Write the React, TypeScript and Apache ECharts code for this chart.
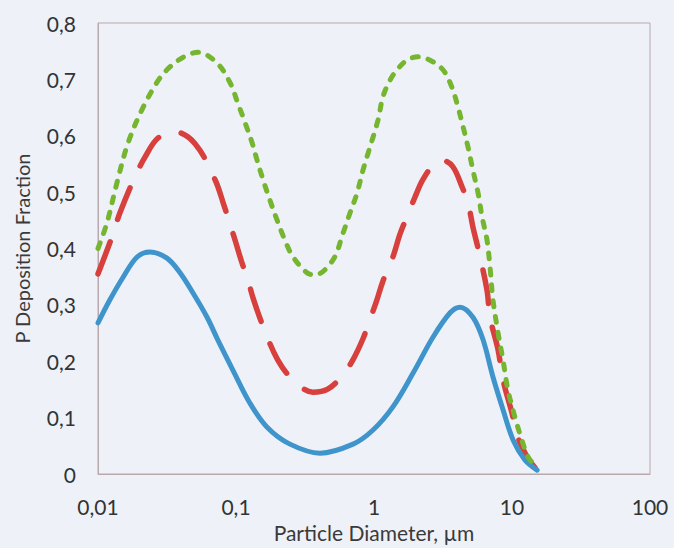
import React, { useEffect, useRef } from "react";
import * as echarts from "echarts";

const xTickLabels = ["0,01", "0,1", "1", "10", "100"];
const yTickLabels = ["0", "0,1", "0,2", "0,3", "0,4", "0,5", "0,6", "0,7", "0,8"];

const blueX = [0.01, 0.0122, 0.0152, 0.0192, 0.0238, 0.0316, 0.0393, 0.0488, 0.0617, 0.0741, 0.0951, 0.126, 0.168, 0.246, 0.406, 0.705, 0.984, 1.37, 1.92, 2.68, 3.56, 4.2, 5.21, 6.17, 7.28, 8.61, 10.2, 12.4, 15.2];
const blueY = [0.268, 0.309, 0.349, 0.385, 0.394, 0.383, 0.357, 0.321, 0.278, 0.237, 0.184, 0.126, 0.083, 0.053, 0.037, 0.053, 0.078, 0.119, 0.179, 0.243, 0.286, 0.296, 0.278, 0.238, 0.172, 0.114, 0.06, 0.025, 0.007];

const redX = [0.01, 0.0126, 0.0144, 0.0185, 0.0219, 0.0272, 0.0361, 0.0505, 0.0705, 0.0805, 0.0984, 0.11, 0.122, 0.133, 0.157, 0.201, 0.259, 0.361, 0.465, 0.596, 0.705, 0.832, 0.935, 1.05, 1.16, 1.37, 1.54, 1.73, 1.98, 2.26, 2.77, 3.16, 3.73, 4.35, 4.8, 5.21, 5.68, 6.59, 6.93, 7.93, 8.61, 10.0, 11.0, 12.9, 14.7];
const redY = [0.355, 0.42, 0.463, 0.527, 0.562, 0.596, 0.607, 0.586, 0.522, 0.482, 0.415, 0.376, 0.344, 0.312, 0.262, 0.202, 0.167, 0.145, 0.151, 0.176, 0.203, 0.24, 0.274, 0.309, 0.342, 0.385, 0.425, 0.456, 0.491, 0.522, 0.552, 0.556, 0.545, 0.509, 0.481, 0.438, 0.4, 0.326, 0.278, 0.22, 0.167, 0.108, 0.066, 0.03, 0.011];

const greenX = [0.01, 0.0116, 0.0137, 0.0165, 0.0208, 0.0268, 0.0316, 0.0406, 0.0531, 0.0728, 0.0906, 0.103, 0.116, 0.131, 0.142, 0.157, 0.176, 0.198, 0.226, 0.259, 0.327, 0.373, 0.505, 0.596, 0.67, 0.753, 0.832, 0.906, 1.07, 1.16, 1.31, 1.47, 1.73, 2.08, 2.55, 3.16, 3.67, 4.06, 4.42, 4.8, 5.21, 5.68, 6.07, 6.59, 6.93, 7.28, 7.93, 8.61, 9.35, 10.5, 11.8, 13.1, 15.2];
const greenY = [0.4, 0.445, 0.516, 0.587, 0.646, 0.695, 0.717, 0.738, 0.748, 0.729, 0.694, 0.658, 0.624, 0.587, 0.557, 0.522, 0.486, 0.451, 0.415, 0.385, 0.357, 0.353, 0.38, 0.427, 0.463, 0.498, 0.539, 0.569, 0.628, 0.669, 0.699, 0.717, 0.734, 0.74, 0.734, 0.717, 0.686, 0.651, 0.616, 0.58, 0.539, 0.498, 0.456, 0.415, 0.367, 0.309, 0.25, 0.202, 0.149, 0.101, 0.06, 0.03, 0.011];

const xTickValues = [0.01, 0.1, 1, 10, 100];
const yTickValues = [0, 0.1, 0.2, 0.3, 0.4, 0.5, 0.6, 0.7, 0.8];

const pair = (xs: number[], ys: number[]) => xs.map((x, i) => [x, ys[i]]);

const FONT = "Lato";
const BG = "#eef1f8";
const AXIS = "#b9a9ad";

export default function App() {
  const ref = useRef<HTMLDivElement>(null);
  useEffect(() => {
    document.body.style.margin = "0";
    document.body.style.background = BG;
    const chart = echarts.init(ref.current!, null, { renderer: "svg" });
    const fmtX = (v: number) => {
      const idx = xTickValues.findIndex((t) => Math.abs(Math.log10(t) - Math.log10(v)) < 1e-6);
      return idx >= 0 ? xTickLabels[idx] : "";
    };
    const fmtY = (v: number) => {
      const idx = yTickValues.findIndex((t) => Math.abs(t - v) < 1e-6);
      return idx >= 0 ? yTickLabels[idx] : "";
    };
    chart.setOption({
      animation: false,
      backgroundColor: BG,
      grid: {
        left: 98,
        top: 23,
        right: 24,
        bottom: 74,
        show: true,
        borderColor: AXIS,
        borderWidth: 1,
        backgroundColor: BG,
      },
      xAxis: {
        type: "log",
        logBase: 10,
        min: 0.01,
        max: 100,
        name: "Particle Diameter, µm",
        nameLocation: "middle",
        nameGap: 48,
        nameTextStyle: { fontFamily: FONT, fontSize: 21, color: "#3a3a3a" },
        axisLine: { show: true, lineStyle: { color: AXIS, width: 1 } },
        axisTick: { show: false },
        splitLine: { show: false },
        minorTick: { show: false },
        axisLabel: {
          formatter: fmtX,
          fontFamily: FONT,
          fontSize: 21,
          color: "#333",
          margin: 22,
        },
      },
      yAxis: {
        type: "value",
        min: 0,
        max: 0.8,
        interval: 0.1,
        name: "P Deposition Fraction",
        nameLocation: "middle",
        nameGap: 66,
        nameTextStyle: { fontFamily: FONT, fontSize: 20, color: "#3a3a3a" },
        axisLine: { show: true, lineStyle: { color: AXIS, width: 1 } },
        axisTick: { show: false },
        splitLine: { show: false },
        axisLabel: {
          formatter: fmtY,
          fontFamily: FONT,
          fontSize: 21,
          color: "#333",
          margin: 22,
        },
      },
      series: [
        {
          type: "line",
          data: pair(blueX, blueY),
          smooth: 0.35,
          symbol: "none",
          lineStyle: { color: "#3f95cb", width: 5, cap: "round" },
          z: 3,
        },
        {
          type: "line",
          data: pair(redX, redY),
          smooth: 0.35,
          symbol: "none",
          lineStyle: { color: "#d8403d", width: 5.5, type: [34, 24], cap: "round" },
          z: 2,
        },
        {
          type: "line",
          data: pair(greenX, greenY),
          smooth: 0.35,
          symbol: "none",
          lineStyle: { color: "#76b52f", width: 5, type: [6, 10], cap: "round" },
          z: 4,
        },
      ],
    });
    return () => chart.dispose();
  }, []);
  return (
    <div
      ref={ref}
      style={{ position: "absolute", left: 0, top: 0, width: 674, height: 548, background: BG }}
    />
  );
}
